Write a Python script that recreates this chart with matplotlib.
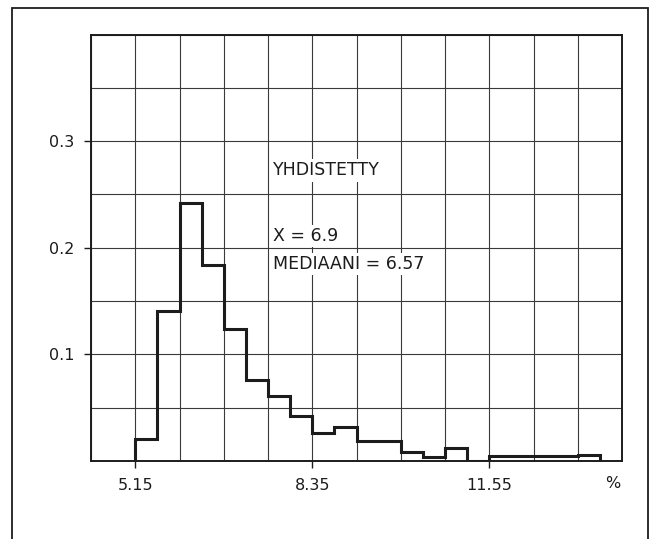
import matplotlib
matplotlib.use('Agg')
import matplotlib.pyplot as plt
from matplotlib.patches import Rectangle
from matplotlib.ticker import MultipleLocator

# histogram bin edges (%) and relative frequencies
edges = [5.15, 5.55, 5.95, 6.35, 6.75, 7.15, 7.55, 7.95, 8.35, 8.75, 9.15,
         9.55, 9.95, 10.35, 10.75, 11.15, 11.55, 11.95, 12.35, 12.75, 13.15, 13.55]
freq = [0.021, 0.141, 0.242, 0.184, 0.124, 0.076, 0.061, 0.042, 0.026, 0.032,
        0.019, 0.019, 0.008, 0.004, 0.012, 0.0, 0.005, 0.005, 0.005, 0.005, 0.006]

xticks = [5.15, 8.35, 11.55]
xticklabels = ['5.15', '8.35', '11.55']
yticks = [0.1, 0.2, 0.3]
yticklabels = ['0.1', '0.2', '0.3']

title = 'YHDISTETTY'
mean_txt = 'X = 6.9'
median_txt = 'MEDIAANI = 6.57'

plt.rcParams['font.family'] = ['DejaVu Sans']
fs = 11.5
fs_txt = 12.5
ink = '#1c1c1c'

fig = plt.figure(figsize=(6.53, 5.39), dpi=100)
# outer frame, open at the bottom edge of the page
fig.patches.append(Rectangle((12/653, -0.05), (648-12)/653, 1.05 - 8/539,
                             transform=fig.transFigure, fill=False,
                             edgecolor=ink, linewidth=1.3))

ax = fig.add_axes([91/653, 1-461/539, (622-91)/653, (461-34.5)/539])
ax.set_xlim(4.35, 13.95)
ax.set_ylim(0, 0.4)

ax.xaxis.set_minor_locator(MultipleLocator(0.8, offset=0.35))
ax.yaxis.set_minor_locator(MultipleLocator(0.05))
ax.set_xticks(xticks)
ax.set_xticklabels(xticklabels)
ax.set_yticks(yticks)
ax.set_yticklabels(yticklabels)
ax.tick_params(which='major', direction='out', length=5, width=1, color=ink,
               labelsize=fs, labelcolor=ink, pad=7)
ax.tick_params(which='minor', length=0)
ax.grid(True, which='both', color='#3a3a3a', linewidth=0.8)
ax.set_axisbelow(True)
for s in ax.spines.values():
    s.set_linewidth(1.4)
    s.set_color(ink)

ax.stairs(freq, edges, baseline=0, color=ink, linewidth=2.2, zorder=3)

box = dict(facecolor='white', edgecolor='none', pad=1.5)
ax.text(7.64, 0.2725, title, fontsize=fs_txt, color=ink, va='center', ha='left',
        bbox=box, zorder=4)
ax.text(7.64, 0.211, mean_txt, fontsize=fs_txt, color=ink, va='center', ha='left',
        bbox=box, zorder=4)
ax.text(7.64, 0.185, median_txt, fontsize=fs_txt, color=ink, va='center', ha='left',
        bbox=box, zorder=4)
ax.text(13.78, -0.021, '%', fontsize=fs, color=ink, va='center', ha='center')

fig.savefig('out.png', dpi=100)
